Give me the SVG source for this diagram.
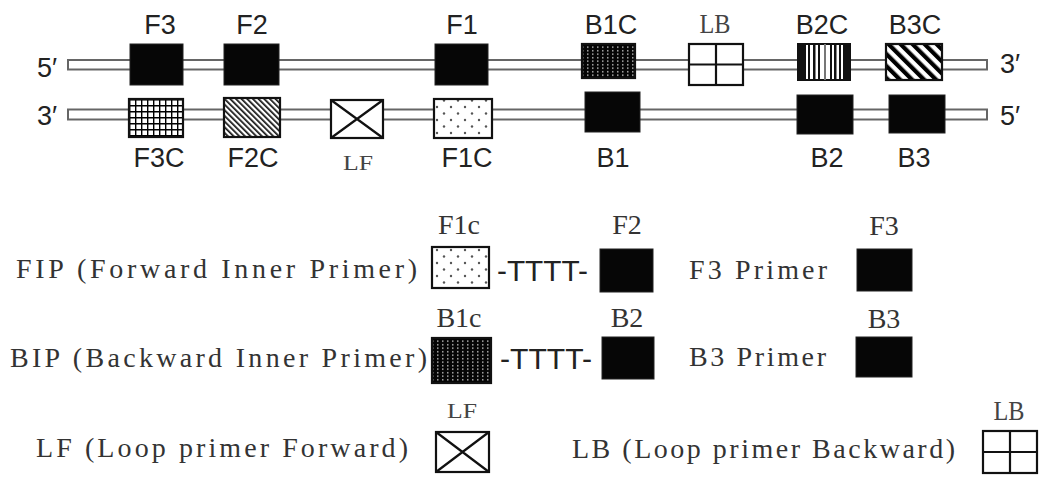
<svg xmlns="http://www.w3.org/2000/svg" width="1044" height="477" viewBox="0 0 1044 477">
<style>
.lab{font-family:"Liberation Sans",Arial,sans-serif;font-size:27px;fill:#222;text-anchor:middle}
.end{font-family:"Liberation Sans",Arial,sans-serif;font-size:27px;fill:#222}
.ser{font-family:"Liberation Serif","Times New Roman",serif;fill:#444;text-anchor:middle}
.leg{font-family:"Liberation Serif","Times New Roman",serif;font-size:28px;fill:#333}
.tt{font-family:"Liberation Sans",Arial,sans-serif;font-size:29px;fill:#222}
.strand{fill:#fff;stroke:#666;stroke-width:2}
.blk{fill:#060606;stroke:#222;stroke-width:1}
.box{stroke:#111;stroke-width:2.2}
.ln{stroke:#111;stroke-width:2.2;fill:none}
</style>
<defs>
<pattern id="pGrid" patternUnits="userSpaceOnUse" width="6" height="6" x="129" y="99"><rect width="6" height="6" fill="#fff"/><path d="M0 0.7H6M0.7 0V6" stroke="#000" stroke-width="1.4"/></pattern>
<pattern id="pHatch" patternUnits="userSpaceOnUse" width="4" height="4" patternTransform="rotate(-45)"><rect width="4" height="4" fill="#fff"/><rect width="1.7" height="4" fill="#111"/></pattern>
<pattern id="pStripe" patternUnits="userSpaceOnUse" width="8.5" height="8.5" patternTransform="rotate(-45)"><rect width="8.5" height="8.5" fill="#fff"/><rect width="4.2" height="8.5" fill="#000"/></pattern>
<pattern id="pDots" patternUnits="userSpaceOnUse" width="14" height="13"><rect width="14" height="13" fill="#fff"/><circle cx="3" cy="3" r="1.2" fill="#555"/><circle cx="10" cy="9.5" r="1.2" fill="#555"/></pattern>
<pattern id="pStip" patternUnits="userSpaceOnUse" width="5" height="3.5"><rect width="5" height="3.5" fill="#050505"/><rect x="2" y="1" width="1.5" height="1.4" fill="#bbb"/></pattern>
</defs>

<g id="connectors">
<rect class="strand" x="68" y="60" width="919" height="9.5"/>
<rect class="strand" x="68" y="109.5" width="919" height="10"/>
</g>

<g id="end-labels">
<text class="end" x="37" y="77">5′</text>
<text class="end" x="37" y="125">3′</text>
<text class="end" x="1000" y="73">3′</text>
<text class="end" x="1000" y="125">5′</text>
</g>

<g id="F3"><rect class="blk" x="130" y="44" width="53" height="41"/><text class="lab" x="160" y="34">F3</text></g>
<g id="F2"><rect class="blk" x="224" y="44" width="55" height="41"/><text class="lab" x="252" y="34">F2</text></g>
<g id="F1"><rect class="blk" x="435" y="44" width="53" height="41"/><text class="lab" x="462" y="34">F1</text></g>
<g id="B1C"><rect class="box" x="582" y="44" width="53" height="34" fill="url(#pStip)"/><text class="lab" x="611" y="34">B1C</text></g>
<g id="LB"><rect class="box" x="689" y="44" width="54" height="41" fill="#fff"/><path class="ln" d="M716 44V85M689 64.5H743"/><text class="ser" x="715" y="33" font-size="27" textLength="31" lengthAdjust="spacingAndGlyphs">LB</text></g>
<g id="B2C">
<rect x="798" y="44" width="52" height="36" fill="#fff" stroke="#111" stroke-width="2"/>
<g fill="#111"><rect x="798" y="44" width="8" height="36"/><rect x="808" y="44" width="2" height="36"/><rect x="813" y="44" width="2.5" height="36"/><rect x="818" y="44" width="2" height="36"/><rect x="824" y="44" width="2" height="36" fill="#777"/><rect x="830" y="44" width="2" height="36"/><rect x="834" y="44" width="2.5" height="36"/><rect x="839" y="44" width="2" height="36"/><rect x="843" y="44" width="7" height="36"/></g>
<text class="lab" x="822" y="34">B2C</text></g>
<g id="B3C"><rect class="box" x="886" y="44" width="56" height="36" fill="url(#pStripe)"/><text class="lab" x="915" y="34">B3C</text></g>

<g id="F3C"><rect class="box" x="129" y="99" width="54" height="38" fill="url(#pGrid)"/><text class="lab" x="159" y="167">F3C</text></g>
<g id="F2C"><rect class="box" x="224" y="98" width="56" height="39" fill="url(#pHatch)"/><text class="lab" x="253" y="167">F2C</text></g>
<g id="LF"><rect class="box" x="331" y="100" width="52" height="38" fill="#fff"/><path class="ln" d="M331 100L383 138M383 100L331 138"/><text class="ser" x="358" y="170" font-size="22" textLength="30" lengthAdjust="spacingAndGlyphs">LF</text></g>
<g id="F1C"><rect class="box" x="434" y="99" width="58" height="39" fill="url(#pDots)"/><text class="lab" x="467" y="167">F1C</text></g>
<g id="B1"><rect class="blk" x="585" y="92" width="55" height="40"/><text class="lab" x="613" y="167">B1</text></g>
<g id="B2"><rect class="blk" x="797" y="95" width="56" height="39"/><text class="lab" x="827" y="167">B2</text></g>
<g id="B3"><rect class="blk" x="889" y="95" width="56" height="38"/><text class="lab" x="914" y="167">B3</text></g>

<g id="legend-FIP">
<text class="leg" x="16" y="278" textLength="401" lengthAdjust="spacing">FIP (Forward Inner Primer)</text>
<rect class="box" x="432" y="247" width="57" height="41" fill="url(#pDots)"/>
<text class="leg" x="459" y="234" text-anchor="middle">F1c</text>
<text class="tt" x="497" y="281" textLength="91" lengthAdjust="spacingAndGlyphs">-TTTT-</text>
<rect class="blk" x="600" y="249" width="53" height="43"/>
<text class="leg" x="627" y="234" text-anchor="middle">F2</text>
</g>
<g id="legend-F3">
<text class="leg" x="689" y="279" textLength="138" lengthAdjust="spacing">F3 Primer</text>
<rect class="blk" x="857" y="249" width="55" height="42"/>
<text class="leg" x="884" y="235" text-anchor="middle">F3</text>
</g>
<g id="legend-BIP">
<text class="leg" x="10" y="367" textLength="417" lengthAdjust="spacing">BIP (Backward Inner Primer)</text>
<rect class="box" x="432" y="338" width="59" height="45" fill="url(#pStip)"/>
<text class="leg" x="459" y="327" text-anchor="middle">B1c</text>
<text class="tt" x="500" y="369" textLength="92" lengthAdjust="spacingAndGlyphs">-TTTT-</text>
<rect class="blk" x="602" y="337" width="52" height="42"/>
<text class="leg" x="627" y="327" text-anchor="middle">B2</text>
</g>
<g id="legend-B3">
<text class="leg" x="689" y="366" textLength="137" lengthAdjust="spacing">B3 Primer</text>
<rect class="blk" x="856" y="337" width="56" height="40"/>
<text class="leg" x="884" y="328" text-anchor="middle">B3</text>
</g>
<g id="legend-LF">
<text class="leg" x="36" y="457" textLength="372" lengthAdjust="spacing">LF (Loop primer Forward)</text>
<rect class="box" x="436" y="432" width="53" height="40" fill="#fff"/>
<path class="ln" d="M436 432L489 472M489 432L436 472"/>
<text class="ser" x="462" y="418" font-size="22" textLength="30" lengthAdjust="spacingAndGlyphs">LF</text>
</g>
<g id="legend-LB">
<text class="leg" x="572" y="458" textLength="383" lengthAdjust="spacing">LB (Loop primer Backward)</text>
<rect class="box" x="983" y="431" width="54" height="42" fill="#fff"/>
<path class="ln" d="M1010 431V473M983 452H1037"/>
<text class="ser" x="1009" y="420" font-size="27" textLength="31" lengthAdjust="spacingAndGlyphs">LB</text>
</g>
</svg>
